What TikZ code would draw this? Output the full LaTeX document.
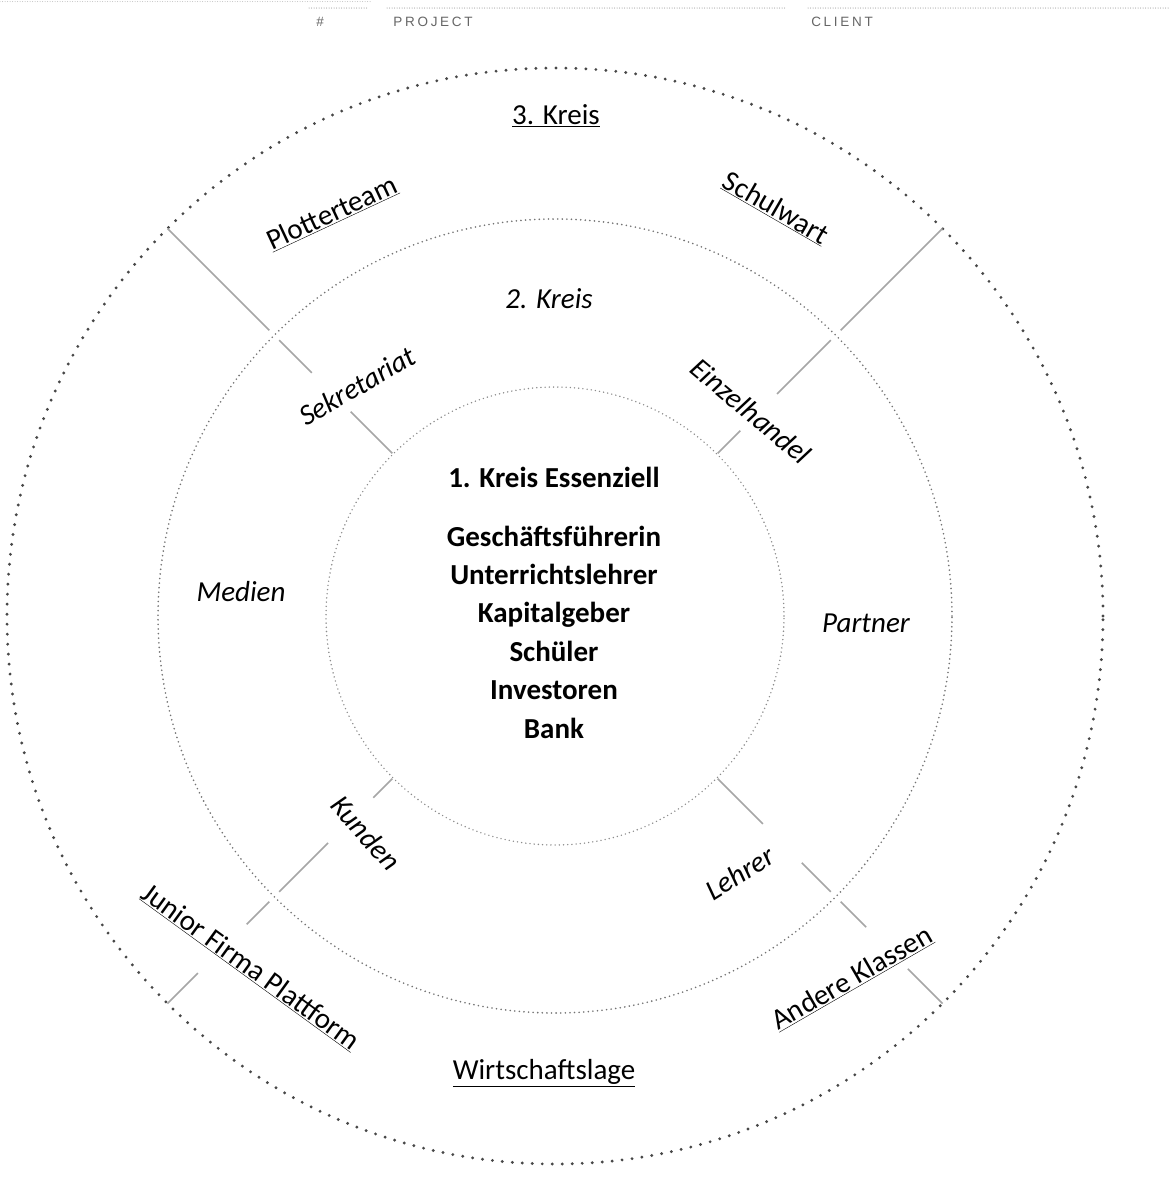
\documentclass[tikz,border=0pt]{standalone}
\usepackage{fontspec}
\setmainfont{Carlito}
\newfontfamily\hdrfont[LetterSpace=20]{Liberation Sans}
\usetikzlibrary{calc}
\begin{document}
\begin{tikzpicture}[x=1pt,y=-1pt,
  lbl/.style={font=\fontsize{29}{35}\selectfont, inner sep=1pt},
  ilbl/.style={inner sep=1pt, font=\fontsize{29}{35}\selectfont\itshape},
  blbl/.style={inner sep=1pt, font=\fontsize{29}{38.4}\selectfont\bfseries, align=center},
  ringthree/.style={draw=black!72, line width=3.2pt, line cap=round, dash pattern=on 0pt off 10pt},
  ringtwo/.style={draw=black!55, line width=1.8pt, line cap=round, dash pattern=on 0pt off 4.6pt},
  ringone/.style={draw=black!45, line width=1.6pt, line cap=round, dash pattern=on 0pt off 4.2pt},
  spoke/.style={draw=black!35, line width=1.6pt},
  hdrline/.style={draw=black!50, line width=1pt, line cap=round, dash pattern=on 0pt off 2.5pt},
  hdr/.style={font=\hdrfont\fontsize{13.5}{15}\selectfont, text=black!60, inner sep=0pt}
]
\fill[white] (0,0) rectangle (1169,1183);
\useasboundingbox (0,0) rectangle (1169,1183);

% header
\draw[hdrline, draw=black!25] (0,1.5) -- (370,1.5);
\draw[hdrline] (309,8) -- (367,8);
\draw[hdrline] (387,8) -- (786,8);
\draw[hdrline] (808,8) -- (1169,8);
\node[hdr] (hash) at (320,22) {\#};
\node[hdr] (proj) at (433,22) {PROJECT};
\node[hdr] (cli) at (842,22) {CLIENT};

% circles
\coordinate (c) at (555,616);
\draw[ringthree] (c) circle[radius=548pt];
\draw[ringtwo] (c) circle[radius=397pt];
\draw[ringone] (c) circle[radius=229pt];

% spokes
\foreach \a/\r/\s in {225/548/404, 225/390/344, 225/289/230,
                      315/548/404, 315/390/314, 315/262/230,
                      135/257/230, 135/321/390, 135/404/436, 135/505/548,
                      45/294/230, 45/349/390, 45/404/440, 45/499/548}
  \draw[spoke] ($(c)+(\a:\r)$) -- ($(c)+(\a:\s)$);

% labels
\node[lbl] (k3) at (556,116) {\underline{3. Kreis}};
\node[ilbl] (k2) at (549,299) {2. Kreis};
\node[ilbl] (med) at (241,592) {Medien};
\node[ilbl] (par) at (866,623) {Partner};
\node[lbl] (wir) at (544,1073) {\underline{Wirtschaftslage}};

\node[lbl, rotate=25] (plo) at (332,213) {\underline{Plotterteam}};
\node[lbl, rotate=-30] (sch) at (776,208) {\underline{Schulwart}};
\node[ilbl, rotate=30] (sek) at (357,386) {Sekretariat};
\node[ilbl, rotate=-40] (ein) at (751,411) {Einzelhandel};
\node[ilbl, rotate=-48] (kun) at (366,833) {Kunden};
\node[ilbl, rotate=32] (leh) at (740,873) {Lehrer};
\node[lbl, rotate=-36] (jun) at (251,967) {\underline{Junior Firma Plattform}};
\node[lbl, rotate=30] (and) at (852,978) {\underline{Andere Klassen}};

\node[blbl] (k1) at (554,477) {1. Kreis Essenziell};
\node[blbl] (list) at (554,632) {Geschäftsführerin\\Unterrichtslehrer\\Kapitalgeber\\Schüler\\Investoren\\Bank};
\end{tikzpicture}
\end{document}
